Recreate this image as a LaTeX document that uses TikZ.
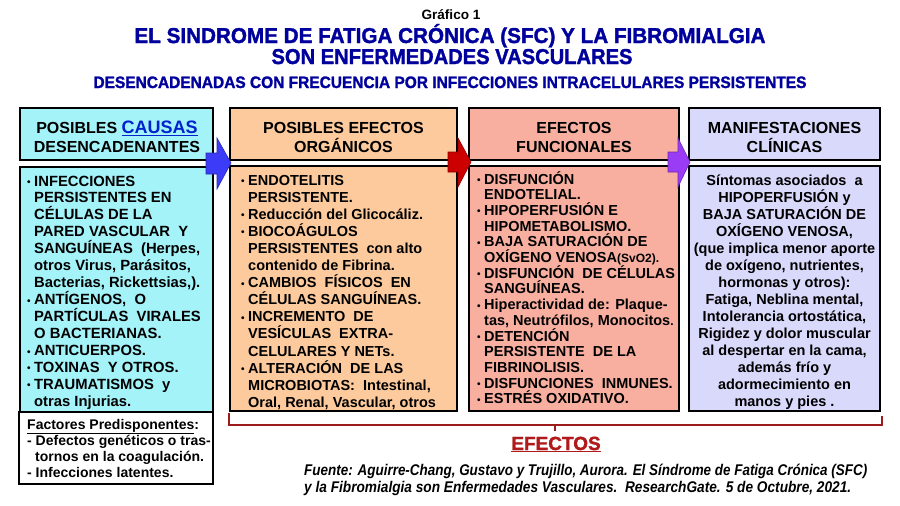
\documentclass[tikz,border=0pt]{standalone}
\usepackage{fontspec}
\setmainfont{Liberation Sans}
\newfontfamily\heavyfont[BoldFeatures={FakeBold=1.6}]{Liberation Sans}
\usepackage{graphicx}
\definecolor{ttl}{HTML}{00009C}
\definecolor{causab}{HTML}{0022CC}
\definecolor{cya}{HTML}{A4F3F9}
\definecolor{pea}{HTML}{FCCA9C}
\definecolor{sal}{HTML}{F8AFA0}
\definecolor{lav}{HTML}{D9D9FB}
\definecolor{brk}{HTML}{9E1B1B}
\definecolor{eff}{HTML}{B01A1A}
\definecolor{arb}{HTML}{3C3CF8}
\definecolor{arr}{HTML}{CC0000}
\definecolor{arp}{HTML}{9A3CF5}
\newcommand\mybul{\makebox[7pt][l]{\fontsize{10}{10}\selectfont\raisebox{0.5pt}{•}}}
\newcommand\myind{\hspace*{7pt}}
\begin{document}
\begin{tikzpicture}[x=1pt,y=-1pt,
  box/.style={draw=black, line width=2.8pt, inner sep=0pt},
  hdrtxt/.style={font=\fontsize{16}{19}\selectfont\bfseries, align=center, inner sep=0pt},
  bodytxt/.style={anchor=base west, inner sep=0pt},
  btxt/.style={anchor=base, inner sep=0pt},
  brkline/.style={draw=brk, line width=2.8pt},
  arrw/.style={line width=0.6pt, line join=miter}]
\useasboundingbox (0,0) rectangle (900,506);
% titles
\node[btxt] (g1) at (451,19) {\resizebox{59pt}{\height}{\fontsize{13.5}{14}\selectfont\bfseries Gráfico 1}};
\node[btxt, text=ttl] (t1) at (450,43) {\resizebox{631pt}{\height}{\fontsize{21.5}{22}\selectfont\heavyfont\bfseries EL SINDROME DE FATIGA CRÓNICA (SFC) Y LA FIBROMIALGIA}};
\node[btxt, text=ttl] (t2) at (452,64) {\resizebox{361pt}{\height}{\fontsize{21.5}{22}\selectfont\heavyfont\bfseries SON ENFERMEDADES VASCULARES}};
\node[btxt, text=ttl] (t3) at (450,88) {\resizebox{713pt}{\height}{\fontsize{16.5}{17}\selectfont\heavyfont\bfseries DESENCADENADAS CON FRECUENCIA POR INFECCIONES INTRACELULARES PERSISTENTES}};
% headers
\node[box, fill=cya, minimum width=193pt, minimum height=52pt] (h1) at (116.5,134) {};
\node[box, fill=pea, minimum width=227pt, minimum height=52pt] (h2) at (343.5,134) {};
\node[box, fill=sal, minimum width=210pt, minimum height=52pt] (h3) at (574,134) {};
\node[box, fill=lav, minimum width=191pt, minimum height=52pt] (h4) at (784.5,134) {};
\node[hdrtxt] (h1t) at (117,137) {POSIBLES {\fontsize{18}{19}\selectfont\color{causab}\underline{CAUSAS}}\\DESENCADENANTES};
\node[hdrtxt] (h2t) at (343.5,137) {POSIBLES EFECTOS\\ORGÁNICOS};
\node[hdrtxt] (h3t) at (574,137) {EFECTOS\\FUNCIONALES};
\node[hdrtxt] (h4t) at (784.5,137) {MANIFESTACIONES\\CLÍNICAS};
% bodies
\node[box, fill=cya, minimum width=193pt, minimum height=245pt] (b1) at (116.5,289.5) {};
\node[box, fill=pea, minimum width=227pt, minimum height=245pt] (b2) at (343.5,288.5) {};
\node[box, fill=sal, minimum width=210pt, minimum height=245pt] (b3) at (574,288.5) {};
\node[box, fill=lav, minimum width=191pt, minimum height=245pt] (b4) at (784.5,288.5) {};
\node[box, fill=white, minimum width=194pt, minimum height=72pt] (f1) at (116,448) {};
\node[bodytxt] (b1t) at (27,186) {\parbox[t]{190pt}{\raggedright\fontsize{14.8}{16.95}\selectfont\bfseries
\mybul INFECCIONES\\
\myind PERSISTENTES EN\\
\myind CÉLULAS DE LA\\
\myind PARED VASCULAR\ \ Y\\
\myind SANGUÍNEAS\ \ (Herpes,\\
\myind otros Virus, Parásitos,\\
\myind Bacterias, Rickettsias,).\\
\mybul ANTÍGENOS,\ \ O\\
\myind PARTÍCULAS\ \ VIRALES\\
\myind O BACTERIANAS.\\
\mybul ANTICUERPOS.\\
\mybul TOXINAS\ \ Y OTROS.\\
\mybul TRAUMATISMOS\ \ y\\
\myind otras Injurias.}};
\node[bodytxt] (b2t) at (241,185) {\parbox[t]{215pt}{\raggedright\fontsize{14.5}{17.1}\selectfont\bfseries
\mybul ENDOTELITIS\\
\myind PERSISTENTE.\\
\mybul Reducción del Glicocáliz.\\
\mybul BIOCOÁGULOS\\
\myind PERSISTENTES\ \ con alto\\
\myind contenido de Fibrina.\\
\mybul CAMBIOS\ \ FÍSICOS\ \ EN\\
\myind CÉLULAS SANGUÍNEAS.\\
\mybul INCREMENTO\ \ DE\\
\myind VESÍCULAS\ \ EXTRA-\\
\myind CELULARES Y NETs.\\
\mybul ALTERACIÓN\ \ DE LAS\\
\myind MICROBIOTAS:\ \ Intestinal,\\
\myind Oral, Renal, Vascular, otros}};
\node[bodytxt] (b3t) at (477,184) {\parbox[t]{200pt}{\raggedright\fontsize{14.5}{15.7}\selectfont\bfseries
\mybul DISFUNCIÓN\\
\myind ENDOTELIAL.\\
\mybul HIPOPERFUSIÓN E\\
\myind HIPOMETABOLISMO.\\
\mybul BAJA SATURACIÓN DE\\
\myind OXÍGENO VENOSA{\fontsize{12}{12}\selectfont(SvO2).}\\
\mybul DISFUNCIÓN\ \ DE CÉLULAS\\
\myind SANGUÍNEAS.\\
\mybul Hiperactividad de: Plaque-\\
\myind tas, Neutrófilos, Monocitos{\fontsize{12}{12}\selectfont.}\\
\mybul DETENCIÓN\\
\myind PERSISTENTE\ \ DE LA\\
\myind FIBRINOLISIS.\\
\mybul DISFUNCIONES\ \ INMUNES.\\
\mybul ESTRÉS OXIDATIVO.}};
\node[btxt] (b4t) at (784.5,185) {\parbox[t]{191pt}{\centering\fontsize{14.5}{17}\selectfont\bfseries
Síntomas asociados\ \ a\\
HIPOPERFUSIÓN y\\
BAJA SATURACIÓN DE\\
OXÍGENO VENOSA,\\
(que implica menor aporte\\
de oxígeno, nutrientes,\\
hormonas y otros):\\
Fatiga, Neblina mental,\\
Intolerancia ortostática,\\
Rigidez y dolor muscular\\
al despertar en la cama,\\
además frío y\\
adormecimiento en\\
manos y pies .}};
\node[bodytxt] (f1t) at (27,429) {\parbox[t]{186pt}{\raggedright\fontsize{14}{16.3}\selectfont\bfseries
\underline{Factores Predisponentes}:\\
- Defectos genéticos o tras-\\
\hspace*{8pt}tornos en la coagulación.\\
- Infecciones latentes.}};
% block arrows
\fill[arb, draw=arb!70!black, arrw] (206,153) -- (217,153) -- (217,138) -- (231,163) -- (217,189) -- (217,174) -- (206,174) -- cycle;
\fill[arr, draw=arr!70!black, arrw] (448,152) -- (458,152) -- (458,138) -- (471,162) -- (458,187) -- (458,172) -- (448,172) -- cycle;
\fill[arp, draw=arp!70!black, arrw] (668,152) -- (678,152) -- (678,138) -- (690,162) -- (678,187) -- (678,172) -- (668,172) -- cycle;
% bracket
\coordinate (bl) at (229,413);
\coordinate (br) at (882,416);
\coordinate (bm) at (555,425);
\draw[brkline] (bl) -- (229,425) -- (882,425) -- (br);
\draw[brkline] (bm) -- (555,431);
\node[btxt, text=eff] (ef) at (556,450) {\fontsize{19}{20}\selectfont\heavyfont\bfseries\underline{EFECTOS}};
% source
\node[bodytxt] (src1) at (304,475) {\resizebox{563pt}{\height}{\fontsize{15.5}{16}\selectfont\bfseries\itshape Fuente: Aguirre-Chang, Gustavo y Trujillo, Aurora. El Síndrome de Fatiga Crónica (SFC)}};
\node[bodytxt] (src2) at (304,492) {\resizebox{547pt}{\height}{\fontsize{15.5}{16}\selectfont\bfseries\itshape y la Fibromialgia son Enfermedades Vasculares.\ \ ResearchGate. 5 de Octubre, 2021.}};
\end{tikzpicture}
\end{document}
